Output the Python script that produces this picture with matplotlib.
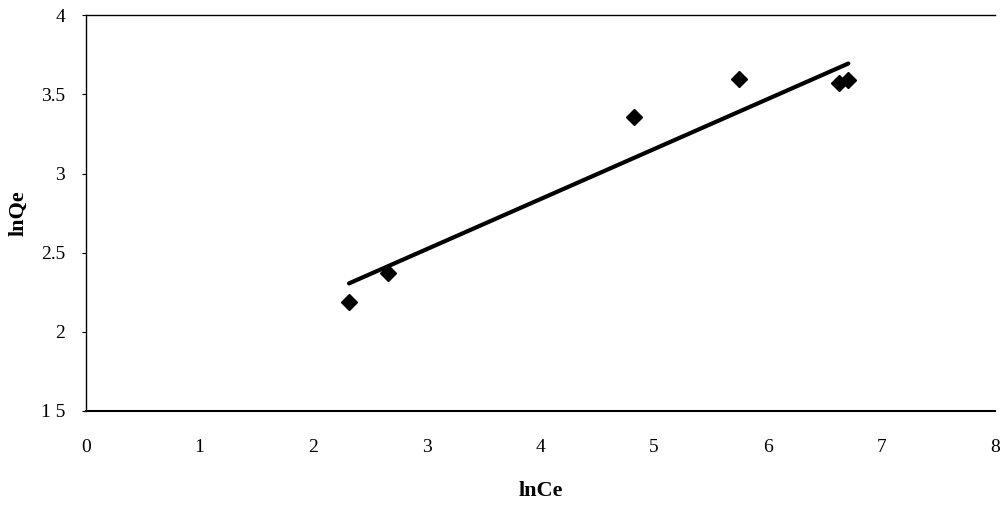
import matplotlib
matplotlib.use("Agg")
import matplotlib.pyplot as plt

# Data
ln_ce = [2.315, 2.656, 4.82, 5.75, 6.63, 6.71]
ln_qe = [2.188, 2.369, 3.354, 3.598, 3.569, 3.59]
# Trendline end points
fit_x = [2.315, 6.71]
fit_y = [2.306, 3.695]

x_ticks = [0, 1, 2, 3, 4, 5, 6, 7, 8]
y_ticks = [1.5, 2, 2.5, 3, 3.5, 4]
y_tick_labels = ["1 5", "2", "2.5", "3", "3.5", "4"]

plt.rcParams['font.family'] = ['Liberation Serif', 'DejaVu Serif']

fig = plt.figure(figsize=(10.07, 5.08), dpi=100)
ax = fig.add_axes([0.0854, 0.191, 0.9026, 0.779])

ax.plot(fit_x, fit_y, color='black', lw=3, solid_capstyle='round', zorder=2)
ax.plot(ln_ce, ln_qe, linestyle='none', marker='D', markersize=8,
        color='black', zorder=3)

ax.set_xlim(0, 8)
ax.set_ylim(1.5, 4)
ax.set_xticks(x_ticks)
ax.set_yticks(y_ticks)
ax.set_yticklabels(y_tick_labels)

ax.spines['right'].set_visible(False)
ax.spines['top'].set_linestyle((0, (8, 1)))
ax.spines['top'].set_linewidth(1.0)
ax.spines['left'].set_linewidth(1.0)
ax.spines['bottom'].set_linewidth(1.5)

ax.tick_params(axis='x', length=0, pad=20, labelsize=14)
ax.tick_params(axis='y', length=3, direction='out', pad=12, labelsize=14)

ax.set_xlabel('lnCe', fontsize=16, fontweight='bold', labelpad=18)
ax.set_ylabel('lnQe', fontsize=16, fontweight='bold', labelpad=9)

fig.savefig('out.png', dpi=100)
